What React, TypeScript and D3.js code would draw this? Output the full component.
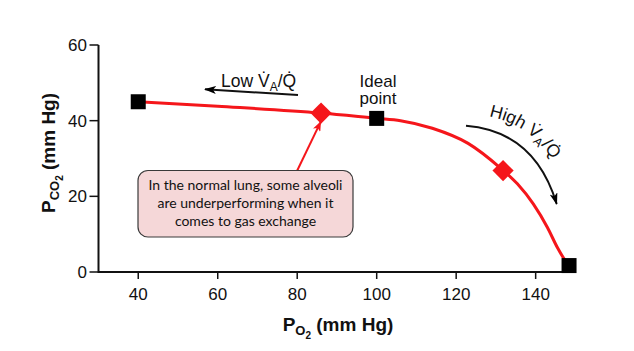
import React from 'react';
import * as d3 from 'd3';

const xTicks = [40, 60, 80, 100, 120, 140];
const yTicks = [0, 20, 40, 60];
const curvePO2 = [40, 60, 86, 100, 106, 114, 123, 131, 135.4, 139.4, 143, 145.5, 147.2, 148.4];
const curvePCO2 = [45, 43.8, 42, 40.6, 40, 38, 34, 27.6, 23.3, 18, 11.7, 6.4, 3.4, 1.7];
const squarePO2 = [40, 100, 148.4];
const squarePCO2 = [45, 40.6, 1.7];
const diamondPO2 = [86, 131.8];
const diamondPCO2 = [42, 26.8];
const calloutLines = ['In the normal lung, some alveoli', 'are underperforming when it', 'comes to gas exchange'];

const RED = '#f5161b';
const AX = '"Liberation Sans", Arial, Helvetica, sans-serif';

export default function App() {
  const W = 634, H = 351;
  const x = d3.scaleLinear().domain([30, 150]).range([98.5, 575.4]);
  const y = d3.scaleLinear().domain([0, 60]).range([272, 45]);
  const pts: [number, number][] = curvePO2.map((v, i) => [v, curvePCO2[i]]);
  const line = d3.line<[number, number]>().x(d => x(d[0])).y(d => y(d[1])).curve(d3.curveMonotoneX);
  const dx = x(diamondPO2[0]), dy = y(diamondPCO2[0]);
  return (
    <svg width={W} height={H} style={{ position: 'absolute', left: 0, top: 0, background: '#fff' }}>
      <defs>
        <marker id="ahBlack" viewBox="0 0 12 8" refX="11" refY="4" markerWidth="12" markerHeight="8" markerUnits="userSpaceOnUse" orient="auto">
          <path d="M0,0 L12,4 L0,8 L3,4 Z" fill="#000" />
        </marker>
        <marker id="ahRed" viewBox="0 0 10 8" refX="9" refY="4" markerWidth="10" markerHeight="8" markerUnits="userSpaceOnUse" orient="auto">
          <path d="M0,0 L10,4 L0,8 L2.5,4 Z" fill={RED} />
        </marker>
        <path id="highPath" d="M470,114 Q546,118 569,198" />
      </defs>
      {/* axes */}
      <line x1={x.range()[0]} x2={x.range()[1]} y1={y(0)} y2={y(0)} stroke="#111" strokeWidth={2} />
      <line x1={x.range()[0]} x2={x.range()[0]} y1={y(0) + 1} y2={y(60)} stroke="#111" strokeWidth={2} />
      {xTicks.map(t => (
        <g key={'x' + t}>
          <line x1={x(t)} x2={x(t)} y1={y(0)} y2={y(0) + 7} stroke="#111" strokeWidth={1.5} />
          <text x={x(t)} y={300} textAnchor="middle" fontFamily={AX} fontSize={17} fill="#111">{t}</text>
        </g>
      ))}
      {yTicks.map(t => (
        <g key={'y' + t}>
          <line x1={x.range()[0] - 9} x2={x.range()[0]} y1={y(t)} y2={y(t)} stroke="#111" strokeWidth={1.5} />
          <text x={87} y={y(t) + 6} textAnchor="end" fontFamily={AX} fontSize={17} fill="#111">{t}</text>
        </g>
      ))}
      {/* axis titles */}
      <text x={338} y={331} textAnchor="middle" fontFamily={AX} fontWeight="bold" fontSize={19} fill="#111">
        P<tspan fontSize={13} dy={4}>O</tspan><tspan fontSize={10} dy={4}>2</tspan><tspan dy={-8}> (mm Hg)</tspan>
      </text>
      <text transform="translate(55,153) rotate(-90)" textAnchor="middle" fontFamily={AX} fontWeight="bold" fontSize={19} fill="#111">
        P<tspan fontSize={13} dy={4}>CO</tspan><tspan fontSize={10} dy={4}>2</tspan><tspan dy={-8}> (mm Hg)</tspan>
      </text>
      {/* curve */}
      <path d={line(pts) || ''} fill="none" stroke={RED} strokeWidth={3} />
      {squarePO2.map((v, i) => (
        <rect key={'s' + i} x={x(v) - 7.5} y={y(squarePCO2[i]) - 7.5} width={15} height={15} fill="#000" />
      ))}
      {diamondPO2.map((v, i) => (
        <rect key={'d' + i} x={-7.5} y={-7.5} width={15} height={15} fill={RED}
          transform={`translate(${x(v)},${y(diamondPCO2[i])}) rotate(45)`} />
      ))}
      {/* Low VA/Q annotation */}
      <text x={221} y={87} fontFamily={AX} fontSize={17.5} fill="#111">
        Low V{'\u0307'}<tspan fontSize={12} dy={4}>A</tspan><tspan dy={-4}>/Q{'\u0307'}</tspan>
      </text>
      <line x1={298} y1={95} x2={205} y2={89.3} stroke="#111" strokeWidth={2} markerEnd="url(#ahBlack)" />
      {/* Ideal point */}
      <text x={378} y={87} textAnchor="middle" fontFamily={AX} fontSize={17} fill="#111">Ideal</text>
      <text x={378} y={104} textAnchor="middle" fontFamily={AX} fontSize={17} fill="#111">point</text>
      {/* High VA/Q */}
      <path d="M466,125.7 Q534.7,131.2 556.7,204" fill="none" stroke="#111" strokeWidth={2} markerEnd="url(#ahBlack)" />
      <text fontFamily={AX} fontSize={17.5} fill="#111">
        <textPath href="#highPath" startOffset={19}>
          High V{'\u0307'}<tspan fontSize={12} dy={4}>A</tspan><tspan dy={-4}>/Q{'\u0307'}</tspan>
        </textPath>
      </text>
      {/* callout */}
      <line x1={297} y1={171} x2={dx - 0.5} y2={dy + 9} stroke={RED} strokeWidth={2} markerEnd="url(#ahRed)" />
      <rect x={138} y={170.5} width={215} height={66.5} rx={10} ry={10} fill="#f5d7d8" stroke="#3a3a3a" strokeWidth={1.2} />
      {calloutLines.map((s, i) => (
        <text key={'c' + i} x={245.5} y={190 + i * 18} textAnchor="middle" fontFamily="Lato, 'Open Sans', sans-serif" fontSize={14} fill="#111">{s}</text>
      ))}
    </svg>
  );
}
